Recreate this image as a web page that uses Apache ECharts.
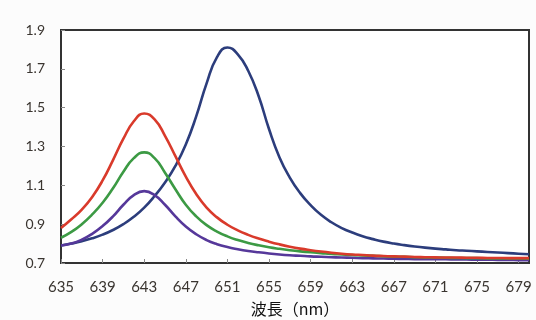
<!DOCTYPE html>
<html>
<head>
<meta charset="utf-8">
<script src="https://cdn.jsdelivr.net/npm/echarts@6/dist/echarts.min.js"></script>
<style>
  html, body { margin: 0; padding: 0; background: #fcfcfc; }
  #chart { width: 536px; height: 320px; }
</style>
</head>
<body>
<div id="chart"></div>
<script>
// wavelength (nm), one point per nm
const wavelengths = [
  '635', '636', '637', '638', '639', '640', '641', '642', '643', '644',
  '645', '646', '647', '648', '649', '650', '651', '652', '653', '654',
  '655', '656', '657', '658', '659', '660', '661', '662', '663', '664',
  '665', '666', '667', '668', '669', '670', '671', '672', '673', '674',
  '675', '676', '677', '678', '679', '680'
];

const redValues = [
  0.88, 0.925, 0.975, 1.04, 1.125, 1.23, 1.34, 1.43, 1.47, 1.44,
  1.355, 1.25, 1.145, 1.055, 0.985, 0.935, 0.897, 0.868, 0.845, 0.826,
  0.81, 0.796, 0.784, 0.774, 0.766, 0.759, 0.753, 0.748, 0.744, 0.741,
  0.738, 0.736, 0.734, 0.733, 0.731, 0.73, 0.729, 0.728, 0.728, 0.727,
  0.727, 0.726, 0.726, 0.725, 0.725, 0.725
];

const greenValues = [
  0.83, 0.86, 0.90, 0.95, 1.01, 1.085, 1.17, 1.24, 1.27, 1.24,
  1.165, 1.08, 1.0, 0.94, 0.895, 0.862, 0.837, 0.818, 0.803, 0.791,
  0.781, 0.773, 0.766, 0.76, 0.755, 0.751, 0.747, 0.744, 0.741, 0.739,
  0.737, 0.735, 0.733, 0.732, 0.73, 0.729, 0.728, 0.727, 0.726, 0.725,
  0.725, 0.724, 0.724, 0.723, 0.723, 0.722
];

const purpleValues = [
  0.79, 0.80, 0.82, 0.85, 0.89, 0.94, 1.0, 1.05, 1.07, 1.05,
  1.0, 0.94, 0.888, 0.848, 0.818, 0.797, 0.782, 0.771, 0.762, 0.755,
  0.749, 0.744, 0.74, 0.737, 0.734, 0.732, 0.73, 0.728, 0.727, 0.725,
  0.724, 0.723, 0.722, 0.721, 0.72, 0.72, 0.719, 0.719, 0.718, 0.718,
  0.717, 0.717, 0.716, 0.716, 0.715, 0.715
];

const navyValues = [
  0.79, 0.80, 0.812, 0.827, 0.846, 0.87, 0.90, 0.938, 0.985, 1.045,
  1.115, 1.2, 1.31, 1.455, 1.625, 1.76, 1.81, 1.775, 1.69, 1.56,
  1.39, 1.245, 1.14, 1.06, 0.998, 0.948, 0.91, 0.88, 0.857, 0.838,
  0.823, 0.81, 0.80, 0.792, 0.785, 0.779, 0.774, 0.77, 0.766, 0.763,
  0.76, 0.757, 0.754, 0.751, 0.748, 0.745
];

const chart = echarts.init(document.getElementById('chart'));

const lineSeries = (data, color) => ({
  type: 'line',
  data: data,
  smooth: true,
  symbol: 'none',
  lineStyle: { color: color, width: 2.6 }
});

const option = {
  backgroundColor: '#fcfcfc',
  animation: false,
  grid: {
    left: 61,
    right: 7,
    top: 30,
    bottom: 57,
    outerBoundsMode: 'none',
    show: true,
    backgroundColor: '#ffffff',
    borderColor: '#333333',
    borderWidth: 2
  },
  xAxis: {
    type: 'category',
    data: wavelengths,
    boundaryGap: false,
    name: '波長（nm）',
    nameLocation: 'middle',
    nameGap: 38,
    nameTextStyle: {
      fontFamily: 'Noto Sans CJK JP',
      fontSize: 16,
      color: '#111111'
    },
    axisLine: { lineStyle: { color: '#333333', width: 2 } },
    axisTick: { inside: true, interval: 3, length: 4, lineStyle: { color: '#888888' } },
    axisLabel: {
      interval: 3,
      margin: 17,
      fontFamily: 'Lato',
      fontSize: 15,
      color: '#3a3530'
    },
    splitLine: { show: false }
  },
  yAxis: {
    type: 'value',
    min: 0.7,
    max: 1.9,
    interval: 0.2,
    axisLine: { show: true, lineStyle: { color: '#333333', width: 2 } },
    axisTick: { show: true, inside: true, length: 4, lineStyle: { color: '#888888' } },
    axisLabel: {
      margin: 16,
      fontFamily: 'Lato',
      fontSize: 14,
      color: '#3a3530',
      formatter: (v) => v.toFixed(1)
    },
    splitLine: { show: false }
  },
  series: [
    lineSeries(navyValues, '#2c3d7c'),
    lineSeries(purpleValues, '#56389a'),
    lineSeries(greenValues, '#3c9a44'),
    lineSeries(redValues, '#d93a2b')
  ]
};

chart.setOption(option);
</script>
</body>
</html>
